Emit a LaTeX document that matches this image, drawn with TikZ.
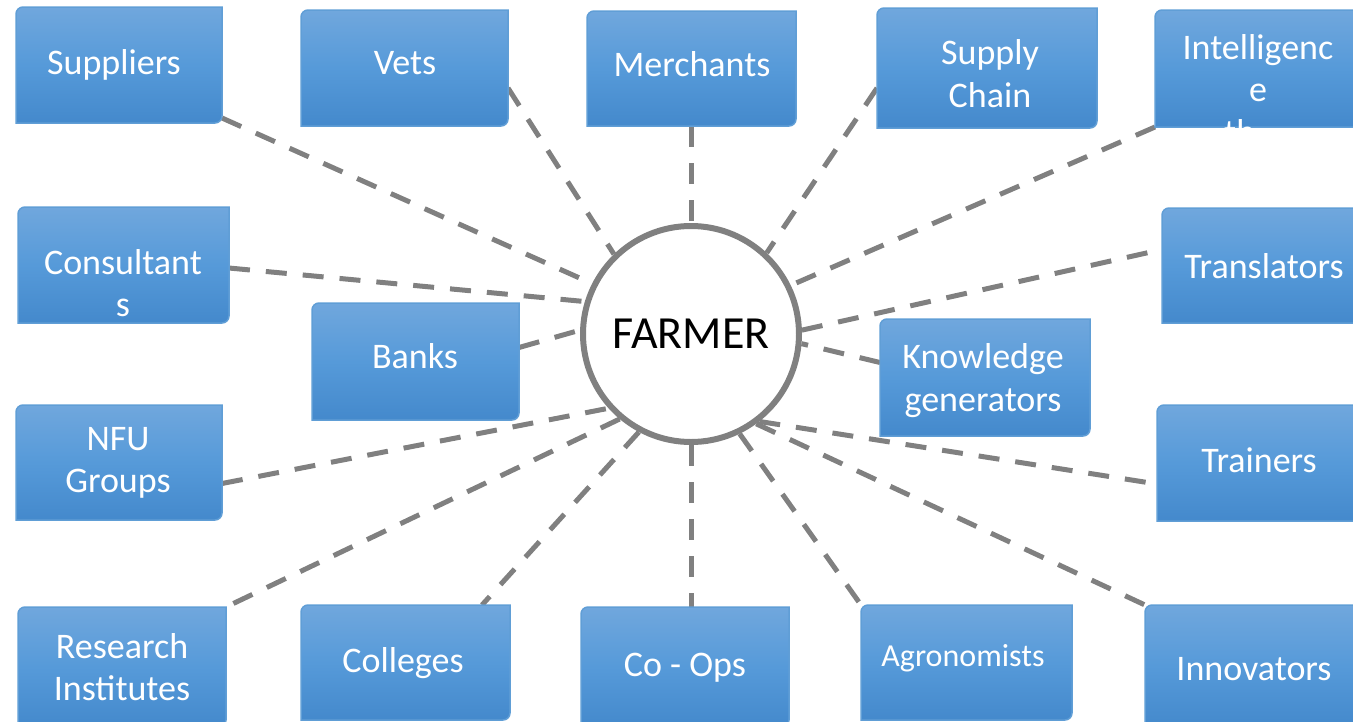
\documentclass[tikz,border=0pt]{standalone}
\usepackage{fontspec}
\setmainfont{Carlito}
\usetikzlibrary{calc}
\pgfdeclarelayer{background}
\pgfsetlayers{background,main}

\definecolor{boxtop}{RGB}{112,167,221}
\definecolor{boxmid}{RGB}{86,154,217}
\definecolor{boxbot}{RGB}{68,137,204}
\definecolor{boxedge}{RGB}{96,158,214}
\definecolor{linkgray}{RGB}{128,128,128}

\tikzset{
  boxframe/.style={rectangle, inner sep=0pt, outer sep=0pt},
  boxbody/.style={draw=boxedge, line width=1.5pt, top color=boxtop, bottom color=boxbot, middle color=boxmid},
  boxtext/.style={text=white, inner sep=0pt, anchor=base, font=\fontsize{36}{42}\selectfont},
  smalltext/.style={boxtext, font=\fontsize{32}{38}\selectfont},
  link/.style={draw=linkgray, line width=5pt, dash pattern=on 21pt off 16pt},
  hub/.style={circle, draw=linkgray, line width=6pt, fill=white, minimum size=216pt, inner sep=0pt,
              font=\fontsize{46}{54}\selectfont}
}

% #1 name, #2 left, #3 top, #4 right, #5 bottom (pixel-style coordinates, y downwards)
% top-left and bottom-right corners rounded, the other two square
\newcommand\farmbox[5]{%
  \node[boxframe, anchor=north west, minimum width={(#4-#2)*1pt}, minimum height={(#5-#3)*1pt}]
    (#1) at (#2,-#3) {};
  \path[boxbody] (#1.west) [rounded corners=7pt] -- (#1.north west) -- (#1.north)
    [sharp corners] -- (#1.north east) -- (#1.east)
    [rounded corners=7pt] -- (#1.south east) -- (#1.south)
    [sharp corners] -- (#1.south west) -- cycle;
}

\begin{document}
\begin{tikzpicture}[x=1pt, y=1pt]
\useasboundingbox (0,0) rectangle (1353,-721);
\clip (0,0) rectangle (1353,-721);

% central hub
\node[hub] (farmer) at (691,-334) {FARMER};

% surrounding boxes
\farmbox{sup}{16}{7}{222}{123}
\farmbox{vets}{301}{10}{508}{126}
\farmbox{mer}{587}{11}{796}{126}
\farmbox{sc}{877}{8}{1097}{128}
\farmbox{int}{1155}{10}{1365}{127}
\farmbox{con}{18}{207}{229}{323}
\farmbox{tra}{1162}{208}{1370}{323}
\farmbox{banks}{312}{303}{519}{420}
\farmbox{kg}{880}{319}{1090}{436}
\farmbox{nfu}{16}{405}{222}{520}
\farmbox{trn}{1157}{405}{1365}{521}
\farmbox{res}{18}{607}{226}{727}
\farmbox{col}{301}{605}{510}{720}
\farmbox{coops}{581}{607}{789}{727}
\farmbox{agr}{861}{605}{1072}{720}
\farmbox{inn}{1145}{605}{1358}{727}

% box labels
\node[boxtext] (sup-a) at (114,-74) {Suppliers};
\node[boxtext] (vets-a) at (405,-74) {Vets};
\node[boxtext] (mer-a) at (692,-76) {Merchants};
\node[boxtext] (sc-a) at (990,-64) {Supply};
\node[boxtext] (sc-b) at (990,-107) {Chain};
\node[boxtext] (int-a) at (1258,-59) {Intelligenc};
\node[boxtext] (int-b) at (1258,-101) {e};
\begin{scope}
  \clip (int.north west) rectangle (int.south east);
  \node[boxtext, anchor=base west] (int-c) at (1224,-144) {th};
\end{scope}
\node[boxtext] (con-a) at (123,-274) {Consultant};
\node[boxtext] (con-b) at (123,-316) {s};
\node[boxtext] (tra-a) at (1264,-278) {Translators};
\node[boxtext] (banks-a) at (415,-368) {Banks};
\node[boxtext] (kg-a) at (983,-368) {Knowledge};
\node[boxtext] (kg-b) at (983,-411) {generators};
\node[boxtext] (nfu-a) at (118,-450) {NFU};
\node[boxtext] (nfu-b) at (118,-492) {Groups};
\node[boxtext] (trn-a) at (1259,-472) {Trainers};
\node[boxtext] (res-a) at (122,-658) {Research};
\node[boxtext] (res-b) at (122,-700) {Institutes};
\node[boxtext] (col-a) at (403,-672) {Colleges};
\node[boxtext] (coops-a) at (685,-676) {Co - Ops};
\node[smalltext] (agr-a) at (963,-666) {Agronomists};
\node[boxtext] (inn-a) at (1254,-680) {Innovators};

% dashed links to the hub
\begin{pgfonlayer}{background}
  \draw[link] ($(sup.south east)+(0,5)$) -- (farmer.153);
  \draw[link] ($(vets.east)+(0,-20)$) -- (farmer.134);
  \draw[link] (mer.south -| farmer) -- (farmer.north);
  \draw[link] ($(sc.west)+(0,-20)$) -- (farmer.47);
  \draw[link] (int.south west) -- (farmer.26);
  \draw[link] ($(con.east)+(0,-3)$) -- (farmer.163.5);
  \draw[link] (farmer.2) -- ($(tra.west)+(0,16)$);
  \draw[link] ($(banks.east)+(0,14)$) -- (farmer.178.5);
  \draw[link] ($(kg.west)+(0,15)$) -- (farmer.-5.6);
  \draw[link] ($(nfu.east)+(0,-21)$) -- (farmer.222);
  \draw[link] (farmer.-52) -- ($(trn.west)+(0,-21)$);
  \draw[link] (farmer.230) -- (res.north east);
  \draw[link] (farmer.242) -- ($(col.north east)+(-28,0)$);
  \draw[link] (farmer.south) -- (farmer.south |- coops.north);
  \draw[link] (farmer.-64) -- (agr.north west);
  \draw[link] (farmer.-54) -- (inn.north west);
\end{pgfonlayer}
\end{tikzpicture}
\end{document}
